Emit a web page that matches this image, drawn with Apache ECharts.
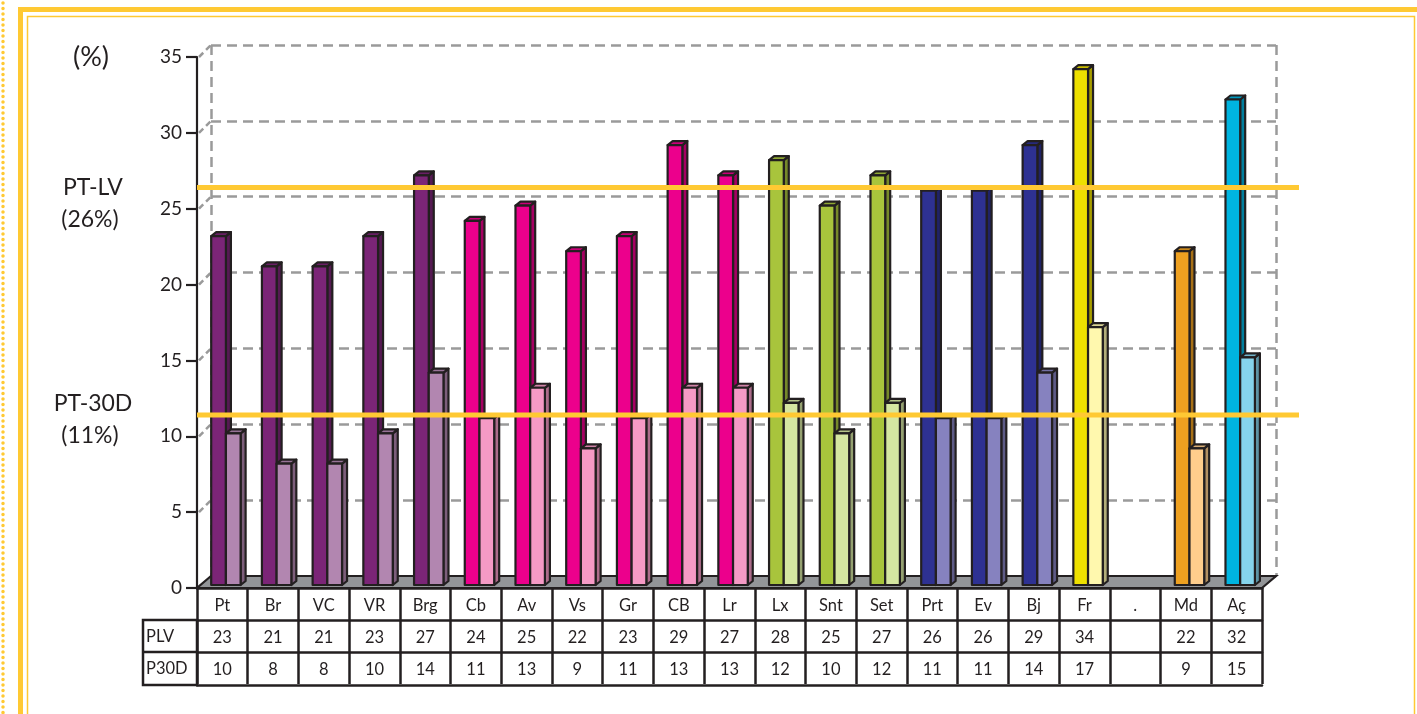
<!DOCTYPE html>
<html><head><meta charset="utf-8">
<script src="https://cdn.jsdelivr.net/npm/echarts@6/dist/echarts.min.js"></script>
<style>html,body{margin:0;padding:0;background:#fff}#c{width:1417px;height:714px}</style>
</head><body><div id="c"></div>
<script>
// ---- data ----
const categories = ['Pt','Br','VC','VR','Brg','Cb','Av','Vs','Gr','CB','Lr','Lx','Snt','Set','Prt','Ev','Bj','Fr','.','Md','Aç'];
const plv  = [23,21,21,23,27,24,25,22,23,29,27,28,25,27,26,26,29,34,null,22,32];
const p30d = [10,8,8,10,14,11,13,9,11,13,13,12,10,12,11,11,14,17,null,9,15];
const regionGroup = ['pur','pur','pur','pur','pur','mag','mag','mag','mag','mag','mag','grn','grn','grn','blu','blu','blu','yel','none','org','cya'];
const rowLabels = ['PLV','P30D'];
const yTicks = [0,5,10,15,20,25,30,35];
const refNames = ['PT-LV','PT-30D'];
const refPcts = ['(26%)','(11%)'];
const refValues = [26,11];

// ---- style ----
const palette = {
  pur:['#7B2577','#B286B0'], mag:['#EC008C','#F59AC5'], grn:['#A8C43C','#D5E6A1'],
  blu:['#2E3192','#8682BF'], yel:['#EEE000','#FFF8AE'], org:['#EEA020','#FFCD8C'],
  cya:['#00B4E0','#86D4EC'], none:['#fff','#fff']
};
const INK = '#231F20', GOLD = '#FFC933', FONT = 'Lato, "Open Sans", sans-serif';
const G = {left:197, top:57, width:1065, height:531};
const D = {dx:14, dy:12};
function shade(hex, f){
  const n = parseInt(hex.slice(1),16);
  const r = Math.round(((n>>16)&255)*f), g = Math.round(((n>>8)&255)*f), b = Math.round((n&255)*f);
  return 'rgb('+r+','+g+','+b+')';
}
function makeRender(frac, shadeIdx){
  return function(params, api){
    const i = api.value(0), v = api.value(1);
    if (v == null || isNaN(v)) return null;
    const band = api.size([1,0])[0];
    const c0 = api.coord([i,0]), c1 = api.coord([i,v]);
    const lift = 3, dx = 5, dy = 4;
    const x = c0[0] - band/2 + band*frac, w = band*0.29;
    const yb = c0[1] - lift, yt = c1[1] - lift;
    const col = palette[regionGroup[i]][shadeIdx];
    const st = {stroke:INK, lineWidth:2.2, lineJoin:'round'};
    return {type:'group', children:[
      {type:'polygon', shape:{points:[[x+w,yt],[x+w+dx,yt-dy],[x+w+dx,yb-dy],[x+w,yb]]}, style:Object.assign({fill:shade(col,0.7)},st)},
      {type:'polygon', shape:{points:[[x,yt],[x+dx,yt-dy],[x+w+dx,yt-dy],[x+w,yt]]}, style:Object.assign({fill:shade(col,0.85)},st)},
      {type:'rect', shape:{x:x, y:yt, width:w, height:yb-yt}, style:Object.assign({fill:col},st)}
    ]};
  };
}
const tableAxis = (data, offset, showLabel, showTick) => ({
  type:'category', gridIndex:0, data:data, position:'bottom', offset:offset,
  axisLine:{show:true, lineStyle:{color:INK, width:2.5}},
  axisTick:{show:showTick, interval:0, length:32, lineStyle:{color:INK, width:2.5}},
  axisLabel:{show:showLabel, interval:0, margin:9, fontSize:16.5, color:INK, fontFamily:FONT},
  splitLine:{show:false}
});
const dashStyle = {color:'#9A9A9A', width:2.5, type:[10,6]};

const chart = echarts.init(document.getElementById('c'));
const option = {
  animation:false,
  backgroundColor:'#fff',
  grid:[
    {left:G.left, top:G.top, width:G.width, height:G.height},
    {left:G.left+D.dx, top:G.top-D.dy, width:G.width, height:G.height}
  ],
  xAxis:[
    tableAxis(categories, 0, true, true),
    tableAxis(plv.map(v => v==null?'':String(v)), 32, true, true),
    tableAxis(p30d.map(v => v==null?'':String(v)), 64, true, true),
    tableAxis(categories, 97, false, false),
    {type:'value', gridIndex:1, min:0, max:1, interval:1, axisLine:{show:false}, axisTick:{show:false}, axisLabel:{show:false}, splitLine:{show:true, lineStyle:dashStyle}}
  ],
  yAxis:[
    {type:'value', gridIndex:0, min:0, max:35, interval:5,
     axisLine:{show:true, lineStyle:{color:INK, width:2.2}},
     axisTick:{show:true, length:11, lineStyle:{color:INK, width:2.2}},
     axisLabel:{fontSize:19, color:INK, fontFamily:FONT, margin:15},
     splitLine:{show:false}},
    {type:'value', gridIndex:1, min:0, max:35, interval:5,
     axisLine:{show:false}, axisTick:{show:false}, axisLabel:{show:false},
     splitLine:{show:true, lineStyle:dashStyle}}
  ],
  series:[
    {type:'custom', name:'PLV', xAxisIndex:0, yAxisIndex:0, z:3, renderItem:makeRender(0.28,0),
     data: plv.map((v,i) => [i, v==null?NaN:v])},
    {type:'custom', name:'P30D', xAxisIndex:0, yAxisIndex:0, z:4, renderItem:makeRender(0.57,1),
     data: p30d.map((v,i) => [i, v==null?NaN:v])}
  ]
};
chart.setOption(option);

// ---- decorations derived from axes ----
const yf = v => chart.convertToPixel({yAxisIndex:0}, v);
const yb = v => chart.convertToPixel({yAxisIndex:1}, v);
const x0 = G.left, x1 = G.left + G.width, y0 = yf(0);
const els = [];
// floor
els.push({type:'polygon', z:1, shape:{points:[[x0,y0],[x1,y0],[x1+D.dx,yb(0)],[x0+D.dx,yb(0)]]}, style:{fill:'#939598', stroke:INK, lineWidth:2.2}});
// tick connectors
yTicks.filter(v => v>0).forEach(v => {
  els.push({type:'line', z:0, shape:{x1:x0+2, y1:yf(v), x2:x0+D.dx, y2:yb(v)}, style:{stroke:'#9A9A9A', lineWidth:2.5, lineDash:[6,4]}});
});
// reference lines and labels
refValues.forEach((v,k) => {
  const y = yf(v) - 6;
  els.push({type:'line', z:20, shape:{x1:x0, y1:y, x2:x1+37, y2:y}, style:{stroke:GOLD, lineWidth:5}});
  const ly = k===0 ? y : y - 12;
  els.push({type:'text', z:20, style:{text:refNames[k], x:93, y:ly, fill:INK, font:'23px '+FONT, textAlign:'center', textVerticalAlign:'middle'}});
  els.push({type:'text', z:20, style:{text:refPcts[k], x:90, y:ly+32, fill:INK, font:'23px '+FONT, textAlign:'center', textVerticalAlign:'middle'}});
});
els.push({type:'text', z:20, style:{text:'(%)', x:91, y:yf(35), fill:INK, font:'27px '+FONT, textAlign:'center', textVerticalAlign:'middle'}});
// table row-label column
const tx0 = 143;
els.push({type:'rect', z:5, shape:{x:tx0, y:y0+32, width:x0-tx0, height:65}, style:{fill:'none', stroke:INK, lineWidth:2.5}});
els.push({type:'line', z:5, shape:{x1:tx0, y1:y0+64, x2:x0, y2:y0+64}, style:{stroke:INK, lineWidth:2.5}});
rowLabels.forEach((t,k) => {
  els.push({type:'text', z:5, style:{text:t, x:tx0+3, y:y0+49+32*k, fill:INK, font:'16.5px '+FONT, textVerticalAlign:'middle'}});
});
// frame
els.push({type:'line', z:0, shape:{x1:18, y1:9.5, x2:1417, y2:9.5}, style:{stroke:GOLD, lineWidth:5}});
els.push({type:'line', z:0, shape:{x1:20.5, y1:7, x2:20.5, y2:714}, style:{stroke:GOLD, lineWidth:5}});
els.push({type:'polyline', z:0, shape:{points:[[27.5,714],[27.5,16.5],[1414.5,16.5],[1414.5,714]]}, style:{stroke:GOLD, lineWidth:1.5, fill:'none'}});
els.push({type:'line', z:0, shape:{x1:3, y1:3, x2:3, y2:714}, style:{stroke:GOLD, lineWidth:3.5, lineDash:[0,5.5], lineCap:'round'}});
chart.setOption({graphic:{elements:els}});
</script></body></html>
